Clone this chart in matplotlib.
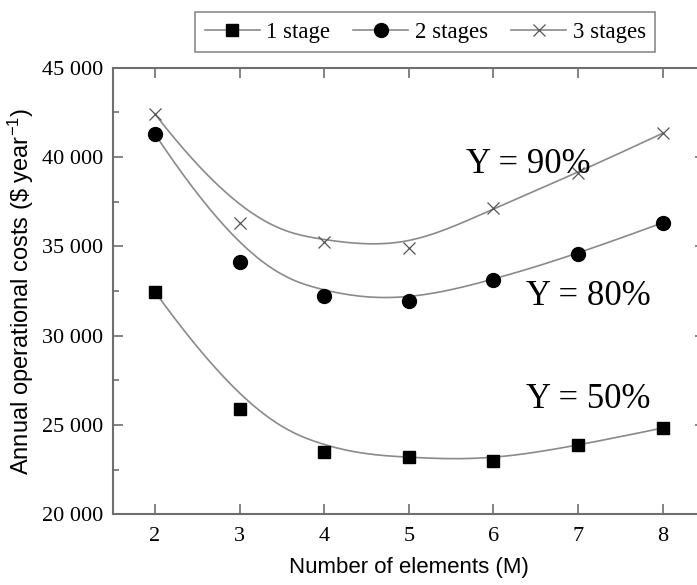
import numpy as np
import matplotlib
matplotlib.use("Agg")
import matplotlib.pyplot as plt
from matplotlib.lines import Line2D
from matplotlib.ticker import MultipleLocator, FuncFormatter

# number of elements M
elements = [2, 3, 4, 5, 6, 7, 8]

# annual operational costs ($/year)
cost_1stage = [32450, 25900, 23480, 23180, 22980, 23850, 24830]
cost_2stage = [41280, 34150, 32230, 31960, 33110, 34570, 36320]
cost_3stage = [42400, 36320, 35230, 34900, 37140, 39120, 41330]

labels = ["1 stage", "2 stages", "3 stages"]
notes = ["Y = 50%", "Y = 80%", "Y = 90%"]
note_pos = [(6.39, 25930), (6.39, 31720), (5.68, 39100)]


def bspline(cx, cy, k=3, num=300):
    # clamped B-spline with the data points as control points
    cx = np.asarray(cx, float)
    cy = np.asarray(cy, float)
    n = len(cx)
    t = np.concatenate([[0.0] * k, np.linspace(0, 1, n - k + 1), [1.0] * k])
    u = np.linspace(0, 1, num)
    N = np.zeros((num, len(t) - 1))
    for i in range(len(t) - 1):
        N[:, i] = (u >= t[i]) & (u < t[i + 1])
    N[-1, n - 1] = 1.0
    for d in range(1, k + 1):
        for i in range(len(t) - 1 - d):
            a = 0.0
            b = 0.0
            if t[i + d] - t[i] > 0:
                a = (u - t[i]) / (t[i + d] - t[i]) * N[:, i]
            if t[i + d + 1] - t[i + 1] > 0:
                b = (t[i + d + 1] - u) / (t[i + d + 1] - t[i + 1]) * N[:, i + 1]
            N[:, i] = a + b
    B = N[:, :n]
    return B @ cx, B @ cy


serif = "Liberation Serif"
sans = "Liberation Sans"
line_col = "#8a8a8a"
spine_col = "#6e6e6e"

fig = plt.figure(figsize=(6.97, 5.85), dpi=100)
ax = fig.add_axes([0.1617, 0.1209, 0.8498, 0.7634])

series = [cost_1stage, cost_2stage, cost_3stage]
mstyle = [dict(marker="s", ms=8, mfc="k", mec="k"),
          dict(marker="o", ms=10, mfc="k", mec="k"),
          dict(marker="x", ms=9, mfc="none", mec="#555555", mew=0.9)]

for ys, st in zip(series, mstyle):
    sx, sy = bspline(elements, ys)
    ax.plot(sx, sy, color=line_col, lw=1.2, zorder=2)
    ax.plot(elements, ys, ls="none", zorder=3, **st)

for txt, (tx, ty) in zip(notes, note_pos):
    ax.text(tx, ty, txt, family=serif, fontsize=25, ha="left", va="baseline")

ax.set_xlim(1.5, 8.5)
ax.set_ylim(20000, 45000)
ax.xaxis.set_major_locator(MultipleLocator(1))
ax.yaxis.set_major_locator(MultipleLocator(5000))
ax.yaxis.set_minor_locator(MultipleLocator(2500))
ax.yaxis.set_major_formatter(FuncFormatter(lambda v, p: f"{int(v):,}".replace(",", " ")))

ax.tick_params(which="both", direction="in", top=True, right=True, color=spine_col,
               labelsize=16, width=1.2)
ax.tick_params(which="major", length=7)
ax.tick_params(which="minor", length=4)
ax.tick_params(axis="x", pad=9)
ax.tick_params(axis="y", pad=7)
for lab in ax.get_xticklabels() + ax.get_yticklabels():
    lab.set_family(serif)
for sp in ax.spines.values():
    sp.set_color(spine_col)
    sp.set_linewidth(1.5)

ax.set_xlabel("Number of elements (M)", family=sans, fontsize=16, labelpad=8)
ax.set_ylabel(r"Annual operational costs (\$ year$\mathregular{^{-1}}$)",
              family=sans, fontsize=17, labelpad=4)

handles = [Line2D([], [], color=line_col, lw=1.2, **st) for st in mstyle]
leg = fig.legend(handles, labels, loc="center", bbox_to_anchor=(0.6103, 0.945),
                 ncol=3, frameon=True, fancybox=False, handlelength=2.4,
                 columnspacing=1.0, handletextpad=0.3, borderpad=0.4,
                 prop={"family": serif, "size": 16.5})
leg.get_frame().set_edgecolor(spine_col)
leg.get_frame().set_linewidth(1.2)

fig.savefig("out.png", dpi=100)
